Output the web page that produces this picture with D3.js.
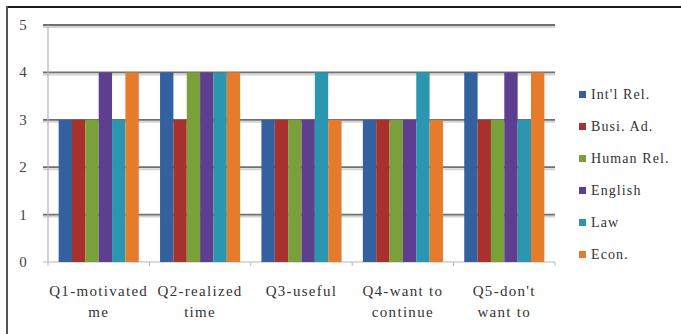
<!DOCTYPE html>
<html><head><meta charset="utf-8">
<script src="https://cdn.jsdelivr.net/npm/d3@7/dist/d3.min.js"></script>
<style>html,body{margin:0;padding:0;background:#fff;}svg{display:block;}text{font-family:'Liberation Serif','Times New Roman',Times,serif;}</style>
</head><body>
<script>
const categories = [["Q1-motivated","me"],["Q2-realized","time"],["Q3-useful"],["Q4-want to","continue"],["Q5-don't","want to"]];
const seriesNames = ["Int'l Rel.","Busi. Ad.","Human Rel.","English","Law","Econ."];
const seriesColors = ["#33609f","#a8302d","#7aa03c","#5e3e8f","#2b96b0","#e57b2b"];
const values = [
  [3,4,3,3,4], // Int'l Rel.
  [3,3,3,3,3], // Busi. Ad.
  [3,4,3,3,3], // Human Rel.
  [4,4,3,3,4], // English
  [3,4,4,4,3], // Law
  [4,4,3,3,4]  // Econ.
];
const yTicks = [0,1,2,3,4,5];

const W=681,H=334;
const svg=d3.select("body").append("svg").attr("width",W).attr("height",H);
const L=48,R=555,T=25,B=262;
const catIdx=categories.map((c,i)=>i);
const x0=d3.scaleBand().domain(catIdx).range([L,R]).paddingInner(0.21).paddingOuter(0.105);
const x1=d3.scaleBand().domain(seriesNames).range([0,x0.bandwidth()]);
const y=d3.scaleLinear().domain([0,5]).range([B,T]);

// frame
svg.append("line").attr("x1",7).attr("x2",W).attr("y1",7).attr("y2",7).attr("stroke","#1a1a1a").attr("stroke-width",2);
svg.append("line").attr("x1",7).attr("x2",7).attr("y1",6).attr("y2",H).attr("stroke","#555").attr("stroke-width",2);

// gridlines
const g=svg.append("g");
yTicks.filter(t=>t>0).forEach(t=>{
  g.append("line").attr("x1",L-5).attr("x2",R).attr("y1",y(t)+2).attr("y2",y(t)+2).attr("stroke","#d4d4d4").attr("stroke-width",2);
  g.append("line").attr("x1",L-5).attr("x2",R).attr("y1",y(t)).attr("y2",y(t)).attr("stroke","#707070").attr("stroke-width",1.8);
});
// y axis
svg.append("line").attr("x1",L).attr("x2",L).attr("y1",T).attr("y2",B).attr("stroke","#b5b5b5").attr("stroke-width",1.2);
// x axis
svg.append("line").attr("x1",L-5).attr("x2",R).attr("y1",B).attr("y2",B).attr("stroke","#b8b8b8").attr("stroke-width",1.2);
const bounds=catIdx.map(i=>x0(i)-x0.step()*x0.paddingInner()/2).concat([R]);
bounds.forEach(b=>svg.append("line").attr("x1",b).attr("x2",b).attr("y1",B).attr("y2",B+4).attr("stroke","#b8b8b8"));

// bars
seriesNames.forEach((s,si)=>{
  svg.append("g").selectAll("rect").data(values[si]).join("rect")
    .attr("x",(d,i)=>x0(i)+x1(s))
    .attr("width",x1.bandwidth())
    .attr("y",d=>y(d))
    .attr("height",d=>y(0)-y(d))
    .attr("fill",seriesColors[si]);
});

// y tick labels
svg.append("g").selectAll("text").data(yTicks).join("text")
  .attr("x",23).attr("y",d=>y(d)+5).attr("text-anchor","middle")
  .attr("font-size",15).attr("fill","#444")
  .text(d=>d);

// category labels
categories.forEach((c,i)=>{
  const cx=x0(i)+x0.bandwidth()/2;
  c.forEach((line,li)=>{
    svg.append("text").attr("x",cx).attr("y",296+li*21).attr("text-anchor","middle")
      .attr("font-size",15).attr("letter-spacing",1.3)
      .attr("fill","#333").text(line);
  });
});

// legend
const lg=svg.append("g");
seriesNames.forEach((s,i)=>{
  const cy=94+i*32;
  lg.append("rect").attr("x",579).attr("y",cy-3).attr("width",7).attr("height",7).attr("fill",seriesColors[i]);
  lg.append("text").attr("x",591).attr("y",cy+5).attr("font-size",14)
    .attr("letter-spacing",1.1).attr("fill","#333").text(s);
});
</script>
</body></html>
